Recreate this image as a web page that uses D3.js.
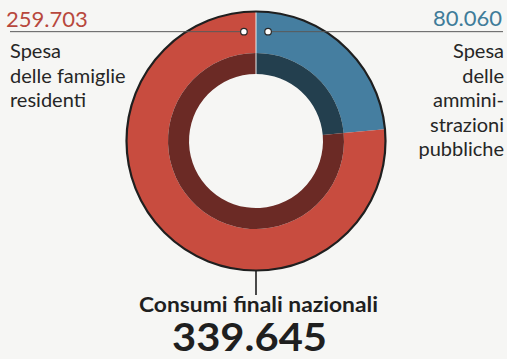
<!DOCTYPE html>
<html>
<head>
<meta charset="utf-8">
<script src="https://cdn.jsdelivr.net/npm/d3@7"></script>
<style>
  html, body { margin: 0; padding: 0; background: #f6f6f4; }
  svg { display: block; }
  text { font-family: Lato, "Open Sans", sans-serif; }
</style>
</head>
<body>
<svg id="chart" width="507" height="359"></svg>
<script>
// Consumi finali nazionali: components (values in millions of euro)
const categories = ["Spesa delle amministrazioni pubbliche", "Spesa delle famiglie residenti"];
const values = [80060, 259703];
const valueLabels = ["80.060", "259.703"];
const totalLabel = "339.645";
const totalTitle = "Consumi finali nazionali";
const leftLines = ["Spesa", "delle famiglie", "residenti"];
const rightLines = ["Spesa", "delle", "ammini-", "strazioni", "pubbliche"];

const outerColors = ["#457ea0", "#c84c3f"];
const innerColors = ["#233f4e", "#6b2a25"];
const labelColors = ["#3f7c99", "#b8483d"];

const svg = d3.select("#chart");
const cx = 256, cy = 141;
const rOuter = 129.5, rMid = 88, rHole = 67;

const pie = d3.pie().sort(null).value(d => d)
  .startAngle(0).endAngle(2 * Math.PI);
const arcs = pie(values);

const outerArc = d3.arc().innerRadius(rMid).outerRadius(rOuter);
const innerArc = d3.arc().innerRadius(rHole).outerRadius(rMid);

const g = svg.append("g").attr("transform", `translate(${cx},${cy})`);

g.selectAll("path.outer").data(arcs).join("path")
  .attr("class", "outer")
  .attr("d", outerArc)
  .attr("fill", (d, i) => outerColors[i]);

g.selectAll("path.inner").data(arcs).join("path")
  .attr("class", "inner")
  .attr("d", innerArc)
  .attr("fill", (d, i) => innerColors[i]);

// thin light separator at the top joint
g.append("line")
  .attr("x1", 0).attr("y1", -rHole).attr("x2", 0).attr("y2", -rOuter)
  .attr("stroke", "#eeeeee").attr("stroke-width", 1);

// outline of the donut
g.append("circle").attr("r", rOuter)
  .attr("fill", "none").attr("stroke", "#1f1f1f").attr("stroke-width", 2.2);

// leader lines and anchor dots
const dotR = 110, dotOff = 0.11;
const pLeft = d3.pointRadial(-dotOff, dotR);
const pRight = d3.pointRadial(dotOff, dotR);

svg.append("line")
  .attr("x1", 10).attr("x2", cx + pLeft[0])
  .attr("y1", cy + pLeft[1]).attr("y2", cy + pLeft[1])
  .attr("stroke", "#5a5a5a").attr("stroke-width", 1);
svg.append("line")
  .attr("x1", cx + pRight[0]).attr("x2", 503)
  .attr("y1", cy + pRight[1]).attr("y2", cy + pRight[1])
  .attr("stroke", "#5a5a5a").attr("stroke-width", 1);

[pLeft, pRight].forEach(p => {
  svg.append("circle")
    .attr("cx", cx + p[0]).attr("cy", cy + p[1]).attr("r", 3.3)
    .attr("fill", "#ffffff").attr("stroke", "#2a2a2a").attr("stroke-width", 1.2);
});

// values at the top
svg.append("text")
  .attr("x", 6).attr("y", 27)
  .attr("font-size", 22).attr("font-weight", 400)
  .attr("fill", labelColors[1])
  .text(valueLabels[1]);
svg.append("text")
  .attr("x", 502).attr("y", 26).attr("text-anchor", "end")
  .attr("font-size", 22).attr("font-weight", 400)
  .attr("fill", labelColors[0])
  .text(valueLabels[0]);

// category labels
const lh = 24.6, firstBase = 58;
svg.append("g").selectAll("text").data(leftLines).join("text")
  .attr("x", 10).attr("y", (d, i) => firstBase + i * lh)
  .attr("font-size", 20).attr("fill", "#262626")
  .text(d => d);
svg.append("g").selectAll("text").data(rightLines).join("text")
  .attr("x", 504).attr("y", (d, i) => firstBase + i * lh)
  .attr("text-anchor", "end")
  .attr("font-size", 20).attr("fill", "#262626")
  .text(d => d);

// total
svg.append("line")
  .attr("x1", cx).attr("x2", cx)
  .attr("y1", cy + rOuter).attr("y2", 295)
  .attr("stroke", "#1f1f1f").attr("stroke-width", 1.6);
svg.append("text")
  .attr("x", 139).attr("y", 312)
  .attr("font-size", 20).attr("font-weight", 700).attr("fill", "#1f1f1f")
  .attr("textLength", 239).attr("lengthAdjust", "spacingAndGlyphs")
  .text(totalTitle);
svg.append("text")
  .attr("x", 172).attr("y", 350.6)
  .attr("font-size", 38).attr("font-weight", 700).attr("fill", "#1f1f1f")
  .attr("textLength", 155).attr("lengthAdjust", "spacingAndGlyphs")
  .text(totalLabel);
</script>
</body>
</html>
